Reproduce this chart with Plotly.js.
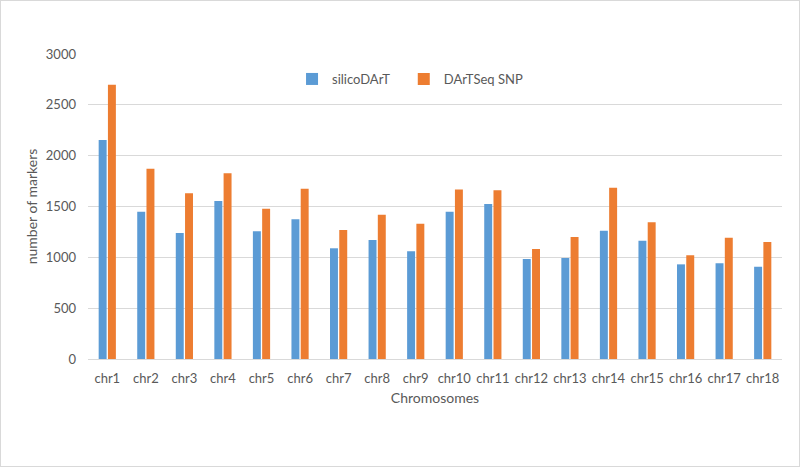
<!DOCTYPE html>
<html><head><meta charset="utf-8">
<script src="https://cdn.plot.ly/plotly-3.0.1.min.js"></script>
<style>
html,body{margin:0;padding:0;background:#fff;}
#frame{position:absolute;left:0;top:0;width:798px;height:465px;border:1px solid #d9d9d9;}
#chart{position:absolute;left:0;top:0;width:800px;height:467px;}
</style></head>
<body>
<div id="frame"></div>
<div id="chart"></div>
<script>
const categories = ["chr1","chr2","chr3","chr4","chr5","chr6","chr7","chr8","chr9","chr10","chr11","chr12","chr13","chr14","chr15","chr16","chr17","chr18"];
const silicoDArT = [2154,1449,1239,1554,1256,1374,1089,1170,1059,1449,1525,984,993,1262,1164,931,941,908];
const dartseqSNP = [2698,1872,1630,1826,1479,1675,1269,1420,1331,1666,1659,1082,1200,1685,1344,1020,1193,1151];
const yTicks = [0,500,1000,1500,2000,2500,3000];

const fontFam = "Lato, 'Open Sans', sans-serif";
const traces = [
  {type:'bar', name:'silicoDArT', x:categories, y:silicoDArT, marker:{color:'#5B9BD5'}, legend:'legend'},
  {type:'bar', name:'DArTSeq SNP', x:categories, y:dartseqSNP, marker:{color:'#ED7D31'}, legend:'legend2'}
];
const legFont = {family:fontFam, size:13, color:'#595959'};
const layout = {
  width:800, height:467,
  paper_bgcolor:'rgba(0,0,0,0)', plot_bgcolor:'rgba(0,0,0,0)',
  margin:{l:88, r:18, t:54, b:108},
  barmode:'group', bargap:0.52, bargroupgap:0.14,
  font:{family:fontFam, size:13, color:'#595959'},
  showlegend:true,
  legend:{orientation:'h', x:0.294, xanchor:'left', y:0.918, yanchor:'middle',
          font:legFont, bgcolor:'rgba(0,0,0,0)', itemwidth:30},
  legend2:{orientation:'h', x:0.455, xanchor:'left', y:0.918, yanchor:'middle',
          font:legFont, bgcolor:'rgba(0,0,0,0)', itemwidth:30},
  xaxis:{type:'category', showgrid:false, showline:true, linecolor:'#d9d9d9', linewidth:1,
         ticks:'', ticklabelstandoff:7, tickfont:{size:13, color:'#595959'},
         title:{text:'Chromosomes', font:{size:14, color:'#595959'}, standoff:8}},
  yaxis:{range:[0,3000], tickvals:yTicks, ticktext:yTicks.map(String),
         showgrid:true, gridcolor:'#d9d9d9', gridwidth:1, zeroline:false, showline:false,
         ticks:'', ticklabelstandoff:11, tickfont:{size:13, color:'#595959'},
         title:{text:'number of markers', font:{size:14, color:'#595959'}, standoff:4}}
};
Plotly.newPlot('chart', traces, layout, {displayModeBar:false, staticPlot:true});
</script>
</body></html>
